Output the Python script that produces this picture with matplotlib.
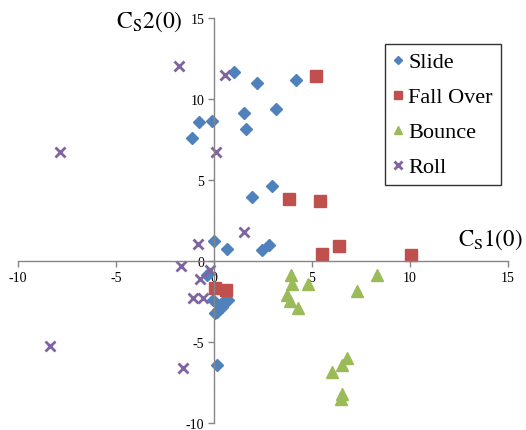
import matplotlib
matplotlib.use("Agg")
import matplotlib.pyplot as plt

plt.rcParams['font.family'] = ['Liberation Serif', 'DejaVu Serif']
plt.rcParams['mathtext.fontset'] = 'stix'

series_names = ["Slide", "Fall Over", "Bounce", "Roll"]

slide_x = [1.02, 2.19, 1.55, -0.77, -0.12, -1.11, 1.63, 1.92, 4.17, 3.15, 2.94,
           0.0, 0.68, 2.46, 2.82, -0.37, -0.03, 0.56, 0.31, 0.14, 0.05, 0.15,
           0.39, 0.22, 0.73]
slide_y = [11.67, 10.96, 9.15, 8.55, 8.63, 7.62, 8.14, 3.96, 11.16, 9.4, 4.64,
           1.22, 0.73, 0.67, 0.98, -0.88, -2.38, -2.38, -2.73, -3.14, -3.24, -6.39,
           -2.83, -3.04, -2.42]

fall_x = [5.22, 3.81, 5.39, 5.53, 6.36, 10.07, 0.05, 0.6]
fall_y = [11.43, 3.8, 3.69, 0.44, 0.9, 0.36, -1.65, -1.8]

bounce_x = [3.91, 3.98, 4.8, 3.72, 3.86, 4.27, 7.3, 8.32, 6.8, 6.53, 6.02, 6.53, 6.5]
bounce_y = [-0.88, -1.43, -1.45, -2.11, -2.46, -2.89, -1.84, -0.88, -5.96, -6.39,
            -6.88, -8.18, -8.49]

roll_x = [-1.79, 0.54, -7.84, 0.1, 1.53, -0.8, -1.7, -0.2, -0.71, -1.06, -0.55,
          -8.37, -1.56]
roll_y = [12.05, 11.47, 6.74, 6.74, 1.8, 1.08, -0.32, -0.57, -1.12, -2.27, -2.27,
          -5.23, -6.59]

ticks = [-10, -5, 0, 5, 10, 15]

fig = plt.figure(figsize=(5.26, 4.31), dpi=100)
ax = fig.add_axes([18/526, 1-424/431, 490/526, 405/431])

ax.plot(slide_x, slide_y, linestyle='none', marker='D', markersize=6,
        color='#4F81BD', label=series_names[0])
ax.plot(fall_x, fall_y, linestyle='none', marker='s', markersize=8,
        color='#C0504D', label=series_names[1])
ax.plot(bounce_x, bounce_y, linestyle='none', marker='^', markersize=8.5,
        color='#9BBB59', label=series_names[2])
ax.plot(roll_x, roll_y, linestyle='none', marker='x', markersize=7.5,
        markeredgewidth=2, color='#8064A2', label=series_names[3])

ax.set_xlim(-10, 15)
ax.set_ylim(-10, 15)
ax.set_xticks(ticks)
ax.set_yticks(ticks)
ax.set_xticklabels([str(t) for t in ticks])
ax.set_yticklabels([str(t) for t in ticks])

ax.spines['left'].set_position(('data', 0))
ax.spines['bottom'].set_position(('data', 0))
ax.spines['top'].set_visible(False)
ax.spines['right'].set_visible(False)
for s in ('left', 'bottom'):
    ax.spines[s].set_color('#868686')
    ax.spines[s].set_linewidth(1)
ax.tick_params(axis='both', direction='out', length=4, width=1, color='#868686',
               labelsize=10, labelcolor='black', pad=3)
ax.patch.set_alpha(0)

ax.text(-1.6, 14.85, r'$\mathrm{C}_{\mathrm{S}}\mathrm{2(0)}$', ha='right', va='center',
        fontsize=17)
ax.text(15.72, 1.39, r'$\mathrm{C}_{\mathrm{S}}\mathrm{1(0)}$', ha='right', va='center',
        fontsize=16.5, clip_on=False)

leg = ax.legend(loc='upper left', bbox_to_anchor=(385/526, 1-45/431),
                bbox_transform=fig.transFigure, borderaxespad=0, fancybox=False,
                frameon=True, edgecolor='black', fontsize=16, handlelength=0.5,
                handletextpad=0.2, labelspacing=0.65, borderpad=0.35,
                markerscale=0.75)
leg.get_frame().set_linewidth(1)

fig.savefig('out.png', dpi=100)
